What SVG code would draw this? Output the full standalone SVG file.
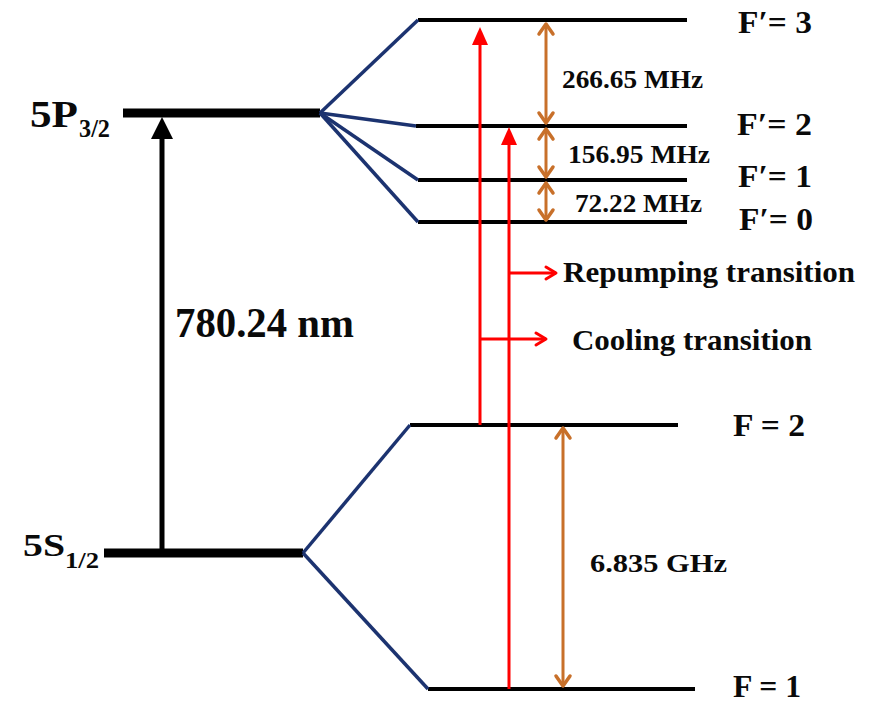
<svg xmlns="http://www.w3.org/2000/svg" width="884" height="703" viewBox="0 0 884 703">
<style>
text{font-family:"Liberation Serif","Times New Roman",serif;font-weight:bold;fill:#0a0a0a}
.lvl{stroke:#000;stroke-width:4;fill:none}
.main{stroke:#000;stroke-width:9;fill:none}
.split{stroke:#1c3370;stroke-width:3.5;fill:none}
.red{stroke:#ff0000;stroke-width:3;fill:none}
.org{stroke:#c8702a;stroke-width:3;fill:none}
</style>
<defs>
<marker id="chevO" markerUnits="userSpaceOnUse" markerWidth="20" markerHeight="20" refX="0" refY="0" viewBox="-12 -10 14 20" orient="auto-start-reverse">
<path d="M-10,-7 L0,0 L-10,7" fill="none" stroke="#c8702a" stroke-width="3.5" stroke-linecap="round" stroke-linejoin="round"/>
</marker>
<marker id="chevR" markerUnits="userSpaceOnUse" markerWidth="20" markerHeight="20" refX="0" refY="0" viewBox="-12 -10 14 20" orient="auto">
<path d="M-10,-6 L0,0 L-10,6" fill="none" stroke="#ff0000" stroke-width="3" stroke-linecap="round" stroke-linejoin="round"/>
</marker>
</defs>

<g id="level-5P">
<line class="main" x1="123" y1="113" x2="320" y2="113"/>
<text x="30" y="127" font-size="37" textLength="48" lengthAdjust="spacingAndGlyphs">5P</text>
<text x="79" y="137" font-size="25" textLength="31" lengthAdjust="spacingAndGlyphs">3/2</text>
</g>
<g id="level-5S">
<line class="main" x1="104" y1="553" x2="303" y2="553" stroke-width="8"/>
<text x="23" y="556" font-size="31" textLength="42" lengthAdjust="spacingAndGlyphs">5S</text>
<text x="65" y="568" font-size="23" textLength="34" lengthAdjust="spacingAndGlyphs">1/2</text>
</g>
<g id="level-Fp3">
<line class="lvl" x1="418" y1="20" x2="687" y2="20"/>
<text x="738" y="33" font-size="32" textLength="74" lengthAdjust="spacingAndGlyphs">F′= 3</text>
</g>
<g id="level-Fp2">
<line class="lvl" x1="416" y1="126" x2="687" y2="126"/>
<text x="737" y="135" font-size="32" textLength="75" lengthAdjust="spacingAndGlyphs">F′= 2</text>
</g>
<g id="level-Fp1">
<line class="lvl" x1="418" y1="180" x2="687" y2="180"/>
<text x="738" y="187" font-size="32" textLength="74" lengthAdjust="spacingAndGlyphs">F′= 1</text>
</g>
<g id="level-Fp0">
<line class="lvl" x1="418" y1="222" x2="687" y2="222"/>
<text x="739" y="230" font-size="32" textLength="74" lengthAdjust="spacingAndGlyphs">F′= 0</text>
</g>
<g id="level-F2">
<line class="lvl" x1="410" y1="425" x2="678" y2="425"/>
<text x="733" y="436" font-size="31" textLength="72" lengthAdjust="spacingAndGlyphs">F = 2</text>
</g>
<g id="level-F1">
<line class="lvl" x1="428" y1="689" x2="695" y2="689" stroke-width="5"/>
<text x="733" y="697" font-size="31" textLength="68" lengthAdjust="spacingAndGlyphs">F = 1</text>
</g>

<g id="connectors">
<line class="split" x1="320" y1="113" x2="418" y2="20"/>
<line class="split" x1="320" y1="113" x2="416" y2="126"/>
<line class="split" x1="320" y1="113" x2="418" y2="180"/>
<line class="split" x1="320" y1="113" x2="418" y2="222"/>
<line class="split" x1="303" y1="553" x2="410" y2="425"/>
<line class="split" x1="303" y1="553" x2="428" y2="689"/>

<line x1="162" y1="553" x2="162" y2="134" stroke="#000" stroke-width="5"/>
<polygon points="162,117 151,139 173,139" fill="#000"/>

<line class="red" x1="480" y1="425" x2="480" y2="40"/>
<polygon points="480,27 472,45 488,45" fill="#ff0000"/>
<line class="red" x1="509" y1="689" x2="509" y2="140"/>
<polygon points="509,127 501,145 517,145" fill="#ff0000"/>
<line class="red" x1="509" y1="273" x2="556" y2="273" marker-end="url(#chevR)"/>
<line class="red" x1="480" y1="339" x2="546" y2="339" marker-end="url(#chevR)"/>

<line class="org" x1="546" y1="24" x2="546" y2="123" marker-start="url(#chevO)" marker-end="url(#chevO)"/>
<line class="org" x1="546" y1="129" x2="546" y2="177" marker-start="url(#chevO)" marker-end="url(#chevO)"/>
<line class="org" x1="546" y1="183" x2="546" y2="220" marker-start="url(#chevO)" marker-end="url(#chevO)"/>
<line class="org" x1="563" y1="428" x2="563" y2="686" marker-start="url(#chevO)" marker-end="url(#chevO)"/>
</g>

<g id="labels">
<text x="175" y="337" font-size="42" textLength="179" lengthAdjust="spacingAndGlyphs">780.24 nm</text>
<text x="562" y="88" font-size="25" textLength="141" lengthAdjust="spacingAndGlyphs">266.65 MHz</text>
<text x="568" y="163" font-size="25" textLength="142" lengthAdjust="spacingAndGlyphs">156.95 MHz</text>
<text x="575" y="212" font-size="25" textLength="127" lengthAdjust="spacingAndGlyphs">72.22 MHz</text>
<text x="563" y="282" font-size="29" textLength="292" lengthAdjust="spacingAndGlyphs">Repumping transition</text>
<text x="572" y="350" font-size="29" textLength="240" lengthAdjust="spacingAndGlyphs">Cooling transition</text>
<text x="590" y="572" font-size="25" textLength="137" lengthAdjust="spacingAndGlyphs">6.835 GHz</text>
</g>
</svg>
